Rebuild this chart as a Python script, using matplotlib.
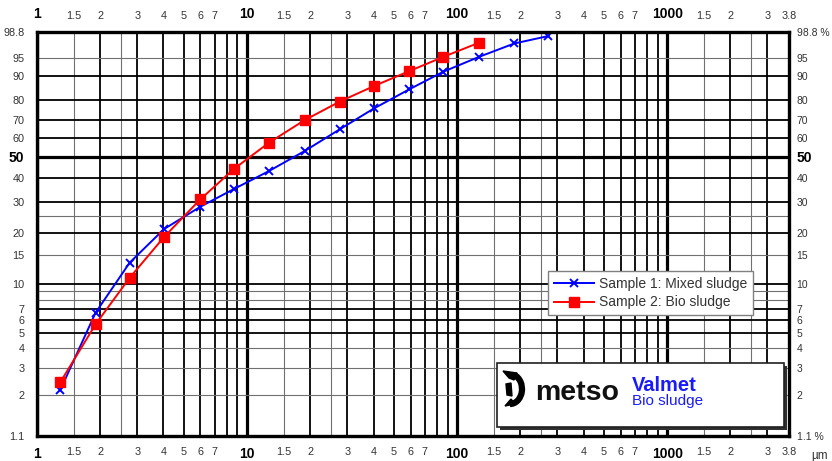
import numpy as np
import matplotlib.pyplot as plt
from matplotlib.patches import Rectangle, Polygon, Arc
from matplotlib.ticker import NullLocator

plt.rcParams['font.family'] = ['Liberation Sans', 'DejaVu Sans']

# particle size, um
size = [1.29, 1.9, 2.76, 4.03, 5.99, 8.65, 12.7, 18.8, 27.6, 40.3, 59.2, 85.9, 127, 187, 272]
# cumulative passing, %
mixed = [2.16, 6.65, 13.45, 21.2, 28.2, 35.0, 43.0, 53.1, 64.8, 76.0, 84.9, 91.4, 95.3, 97.6, 98.45]
bio = [2.42, 5.63, 10.9, 19.1, 30.9, 44.0, 57.5, 69.8, 79.3, 86.3, 91.6, 95.3, 97.7]

x_ticks = [1, 1.5, 2, 3, 4, 5, 6, 7, 10, 15, 20, 30, 40, 50, 60, 70, 100,
           150, 200, 300, 400, 500, 600, 700, 1000, 1500, 2000, 3000, 3800]
x_labels = ['1', '1.5', '2', '3', '4', '5', '6', '7', '10', '1.5', '2', '3', '4', '5', '6', '7', '100',
            '1.5', '2', '3', '4', '5', '6', '7', '1000', '1.5', '2', '3', '3.8']
y_ticks = [1.1, 2, 3, 4, 5, 6, 7, 10, 15, 20, 30, 40, 50, 60, 70, 80, 90, 95, 98.8]
y_labels = ['1.1', '2', '3', '4', '5', '6', '7', '10', '15', '20', '30', '40', '50',
            '60', '70', '80', '90', '95', '98.8']
y_labels_right = y_labels[:]
y_labels_right[0] = '1.1 %'
y_labels_right[-1] = '98.8 %'


# Rosin-Rammler (RRSB) scale for the passing axis
def rr(p):
    p = np.clip(np.asarray(p, dtype=float), 1e-6, 100 - 1e-6)
    return np.log(-np.log(1 - p / 100.0))


def rr_inv(t):
    return 100.0 * (1 - np.exp(-np.exp(t)))


W, H = 832, 461
fig = plt.figure(figsize=(W / 100, H / 100), dpi=100)
ax = fig.add_axes([37 / W, 1 - 436 / H, (789 - 37) / W, (436 - 32) / H])
ax.set_xscale('log')
ax.set_yscale('function', functions=(rr, rr_inv))
ax.set_xlim(1, 3800)
ax.set_ylim(1.1, 98.8)

# grid
decades = [1, 10, 100, 1000]
for d in decades:
    for k in range(2, 10):
        if d * k < 3800:
            ax.axvline(d * k, color='black', lw=1.3, zorder=1)
    for k in (1.5, 2.5):
        ax.axvline(d * k, color='#707070', lw=0.8, zorder=1)
    ax.axvline(d, color='black', lw=2.3, zorder=1)

for p in [5, 6, 7, 10, 20, 30, 40, 60, 70, 80, 90]:
    ax.axhline(p, color='black', lw=1.3, zorder=1)
for p in [2, 3, 4, 8, 9, 15, 25, 95]:
    ax.axhline(p, color='#707070', lw=0.8, zorder=1)
ax.axhline(50, color='black', lw=2.3, zorder=1)

for s in ax.spines.values():
    s.set_linewidth(2.4)
    s.set_zorder(5)

# data
ax.plot(size, mixed, color='#0000ff', lw=1.4, marker='x', ms=6, mew=1.4,
        label='Sample 1: Mixed sludge', zorder=3, clip_on=False)
ax.plot(size[:len(bio)], bio, color='#ff0000', lw=1.4, marker='s', ms=6.5,
        label='Sample 2: Bio sludge', zorder=3, clip_on=False)

# ticks
ax.xaxis.set_minor_locator(NullLocator())
ax.yaxis.set_minor_locator(NullLocator())
ax.set_xticks(x_ticks, x_labels)
ax.set_yticks(y_ticks, y_labels)
ax.tick_params(axis='x', length=0, pad=8, labeltop=True, labelbottom=True,
               labelsize=7.8, labelcolor='#333333')
ax.tick_params(axis='y', length=0, pad=9, labelsize=7.8, labelcolor='#333333')
for t in ax.xaxis.get_major_ticks():
    if t.label1.get_text() in ('1', '10', '100', '1000'):
        for lab in (t.label1, t.label2):
            lab.set_fontweight('bold')
            lab.set_fontsize(10)
            lab.set_color('black')

ax2 = ax.twinx()
ax2.set_yscale('function', functions=(rr, rr_inv))
ax2.set_ylim(1.1, 98.8)
ax2.yaxis.set_minor_locator(NullLocator())
ax2.set_yticks(y_ticks, y_labels_right)
ax2.tick_params(axis='y', length=0, pad=5.5, labelsize=7.5, labelcolor='#333333')
for s in ax2.spines.values():
    s.set_visible(False)

for a in (ax, ax2):
    for lab in a.get_yticklabels():
        if lab.get_text() == '50':
            lab.set_fontweight('bold')
            lab.set_fontsize(10)
            lab.set_color('black')

fig.text(811 / W, 1 - 450 / H, 'µm', fontsize=8.5, color='#333333', va='top', ha='left')

leg = ax.legend(loc='upper left', bbox_to_anchor=((548 - 37) / 752, (436 - 271) / 404),
                borderaxespad=0, fontsize=10, handlelength=2.9, handletextpad=0.35,
                labelspacing=0.35, borderpad=0.4, fancybox=False, framealpha=1,
                edgecolor='#808080', labelcolor='#333333')
leg.get_frame().set_linewidth(1.0)
leg.set_zorder(6)


# logo box
def fx(x):
    return x / W


def fy(y):
    return 1 - y / H


bx0, by0, bx1, by1 = 497, 363, 784, 427
fig.patches.append(Rectangle((fx(bx0 + 3), fy(by1 + 3)), fx(bx1 - bx0), (by1 - by0) / H,
                             transform=fig.transFigure, facecolor='#303030',
                             edgecolor='none', zorder=7))
fig.patches.append(Rectangle((fx(bx0), fy(by1)), fx(bx1 - bx0), (by1 - by0) / H,
                             transform=fig.transFigure, facecolor='white',
                             edgecolor='#202020', lw=1.2, zorder=8))

# metso mark
fig.patches.append(Arc((fx(510), fy(389)), fx(24), 30 / H, theta1=-90, theta2=80,
                       transform=fig.transFigure, color='black', lw=4.5, zorder=9))
fig.patches.append(Polygon([(fx(503), fy(371)), (fx(517), fy(373)), (fx(514), fy(380)),
                            (fx(509), fy(378))],
                           closed=True, transform=fig.transFigure, color='black', zorder=9))
fig.patches.append(Polygon([(fx(505), fy(406)), (fx(511), fy(399)), (fx(515), fy(404))],
                           closed=True, transform=fig.transFigure, color='black', zorder=9))
fig.patches.append(Polygon([(fx(506), fy(384)), (fx(511), fy(383)), (fx(512), fy(396)),
                            (fx(507), fy(395))],
                           closed=True, transform=fig.transFigure, color='black', zorder=9))

fig.text(fx(535), fy(400), 'metso', fontsize=20.5, fontweight='bold', color='#111111',
         va='baseline', ha='left', zorder=10)
fig.text(fx(632), fy(391), 'Valmet', fontsize=14.5, fontweight='bold', color='#1a1aff',
         va='baseline', ha='left', zorder=10)
fig.text(fx(632), fy(405), 'Bio sludge', fontsize=11, color='#1a1aff',
         va='baseline', ha='left', zorder=10)

fig.savefig('out.png', dpi=100)
